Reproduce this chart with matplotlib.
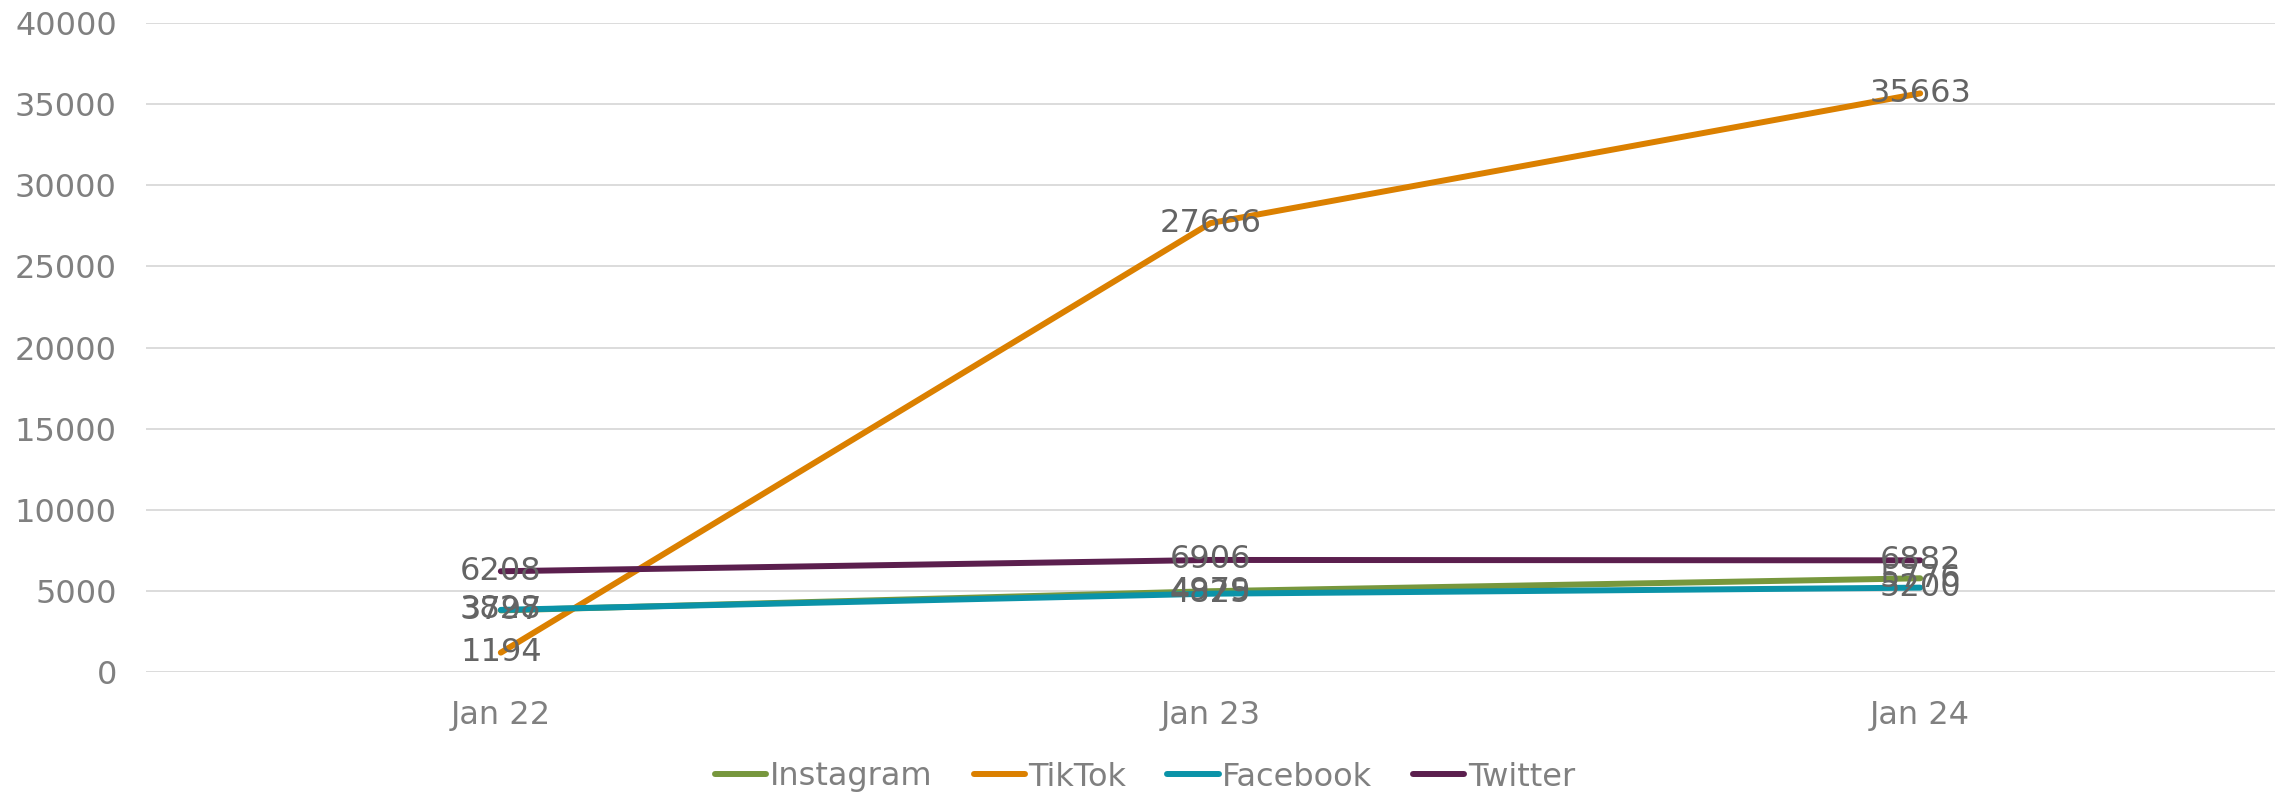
import matplotlib.pyplot as plt

plt.rcParams['font.family'] = ['DejaVu Sans']

# data
MONTHS = ['Jan 22', 'Jan 23', 'Jan 24']
INSTAGRAM = [3797, 4979, 5776]
TIKTOK = [1194, 27666, 35663]
FACEBOOK = [3828, 4825, 5200]
TWITTER = [6208, 6906, 6882]

SERIES = [
    ('Instagram', INSTAGRAM, '#77973d'),
    ('TikTok', TIKTOK, '#db8000'),
    ('Facebook', FACEBOOK, '#0b93a8'),
    ('Twitter', TWITTER, '#5b1f4e'),
]
Y_TICKS = list(range(0, 40001, 5000))

TICK_GREY = '#808080'
LABEL_GREY = '#646464'
FS = 23


def main():
    fig = plt.figure(figsize=(22.9, 7.96), dpi=100)
    ax = fig.add_axes([146 / 2290, 1 - 672 / 796, (2275 - 146) / 2290, (672 - 23) / 796])

    x = list(range(len(MONTHS)))
    for name, vals, col in SERIES:
        ax.plot(x, vals, color=col, linewidth=4.3, label=name,
                solid_capstyle='round', zorder=3)
        for xi, v in zip(x, vals):
            ax.text(xi, v, str(v), ha='center', va='center',
                    fontsize=FS, color=LABEL_GREY, zorder=4)

    ax.set_xlim(-0.5, 2.5)
    ax.set_ylim(0, 40000)
    ax.set_yticks(Y_TICKS)
    ax.set_yticklabels([str(t) for t in Y_TICKS])
    ax.set_xticks(x)
    ax.set_xticklabels(MONTHS)
    ax.tick_params(axis='both', length=0, labelsize=FS, labelcolor=TICK_GREY)
    ax.tick_params(axis='x', pad=20)
    ax.tick_params(axis='y', pad=21)
    ax.grid(axis='y', color='#d9d9d9', linewidth=1.3, zorder=0)
    for sp in ax.spines.values():
        sp.set_visible(False)

    leg = fig.legend(loc='center', bbox_to_anchor=(0.5, 1 - 777 / 796), ncol=4,
                     frameon=False, fontsize=FS, handlelength=1.6,
                     handletextpad=0.1, columnspacing=1.3)
    for t in leg.get_texts():
        t.set_color(TICK_GREY)

    fig.savefig('out.png', dpi=100)


if __name__ == '__main__':
    main()
